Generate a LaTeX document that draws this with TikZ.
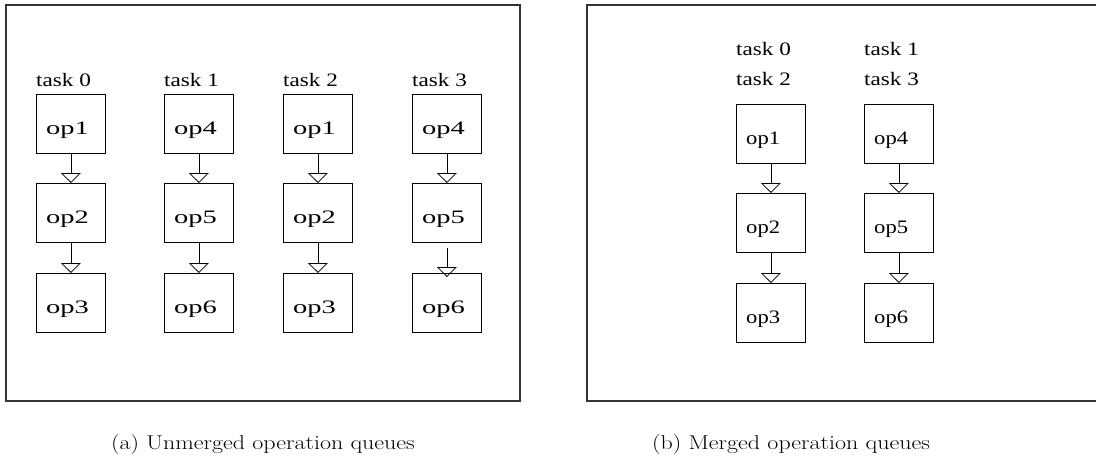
\documentclass[tikz,border=0pt]{standalone}
\usepackage{fontspec}
\usetikzlibrary{arrows.meta}
\newfontfamily\labfont[FakeStretch=1.22]{Liberation Serif}
\newfontfamily\opLfont[FakeStretch=1.5]{Liberation Serif}
\newfontfamily\opRfont[FakeStretch=1.19]{Liberation Serif}
\tikzset{
  frame/.style={draw=black!80, line width=1.6pt},
  opbox/.style={draw, line width=0.8pt, rectangle, minimum width=69pt, minimum height=59pt, inner sep=0pt, anchor=north west},
  tasklab/.style={inner sep=0pt, anchor=base west, font=\labfont\fontsize{19}{22}\selectfont},
  oplabL/.style={inner sep=0pt, anchor=base west, font=\opLfont\fontsize{19}{22}\selectfont},
  oplabR/.style={inner sep=0pt, anchor=base west, font=\opRfont\fontsize{19}{22}\selectfont},
  flow/.style={line width=0.8pt, -{Triangle[open, width=20pt, length=10pt, line width=0.8pt]}},
  caplab/.style={inner sep=0pt, anchor=base}
}
\begin{document}
\begin{tikzpicture}[x=1pt,y=-1pt]
\useasboundingbox[fill=white] (0,0) rectangle (1096,459);
% frames
\draw[frame] (6,5) rectangle (520,401);
\draw[frame] (1100,5) -- (587,5) -- (587,401) -- (1100,401);
% left panel
\foreach \c/\x/\t/\a/\b/\d in {0/36/0/1/2/3, 1/164/1/4/5/6, 2/283/2/1/2/3, 3/412/3/4/5/6}{
  \node[tasklab] (lt\c) at (\x,86) {task \t};
  \node[opbox] (l\c a) at (\x,94) {};
  \node[opbox] (l\c b) at (\x,183) {};
  \node[opbox] (l\c c) at (\x,273) {};
  \node[oplabL] (l\c at) at ([xshift=10pt,yshift=-40pt]l\c a.north west) {op\a};
  \node[oplabL] (l\c bt) at ([xshift=10pt,yshift=-40pt]l\c b.north west) {op\b};
  \node[oplabL] (l\c ct) at ([xshift=10pt,yshift=-40pt]l\c c.north west) {op\d};
}
\foreach \c in {0,1,2,3}{
  \draw[flow] (l\c a.south) -- (l\c b.north);
}
\foreach \c in {0,1,2}{
  \draw[flow] (l\c b.south) -- (l\c c.north);
}
\draw[flow] ([yshift=-5pt]l3b.south) -- ([yshift=-4pt]l3c.north);
% right panel
\foreach \c/\x/\t/\u/\a/\b/\d in {0/736/0/2/1/2/3, 1/864/1/3/4/5/6}{
  \node[tasklab] (rt\c) at (\x,55) {task \t};
  \node[tasklab] (ru\c) at (\x,85) {task \u};
  \node[opbox] (r\c a) at (\x,104) {};
  \node[opbox] (r\c b) at (\x,193) {};
  \node[opbox] (r\c c) at (\x,283) {};
  \node[oplabR] (r\c at) at ([xshift=10pt,yshift=-40pt]r\c a.north west) {op\a};
  \node[oplabR] (r\c bt) at ([xshift=10pt,yshift=-40pt]r\c b.north west) {op\b};
  \node[oplabR] (r\c ct) at ([xshift=10pt,yshift=-40pt]r\c c.north west) {op\d};
  \draw[flow] (r\c a.south) -- (r\c b.north);
  \draw[flow] (r\c b.south) -- (r\c c.north);
}
% captions
\node[caplab] (capa) at (263,449) {\scalebox{1.2}[1]{\fontsize{20}{24}\selectfont (a)~Unmerged operation queues}};
\node[caplab] (capb) at (791,449) {\scalebox{1.2}[1]{\fontsize{20}{24}\selectfont (b)~Merged operation queues}};
\end{tikzpicture}
\end{document}
